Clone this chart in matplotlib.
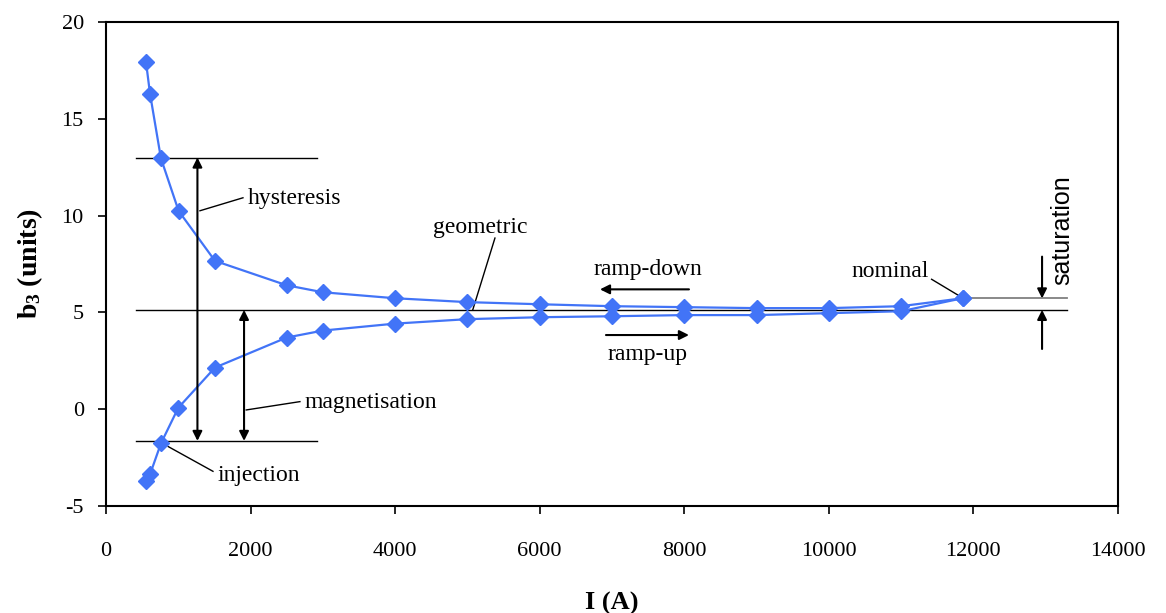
import numpy as np
from matplotlib import pyplot as plt

I_down = [553, 609, 760, 1005, 1508, 2500, 3000, 4000, 5000, 6000, 7000, 8000, 9000, 10000, 11000, 11850]
b3_down = [17.95, 16.3, 12.96, 10.24, 7.66, 6.4, 6.04, 5.73, 5.53, 5.42, 5.32, 5.27, 5.22, 5.22, 5.32, 5.73]
I_up = [553, 609, 760, 1000, 1508, 2500, 3000, 4000, 5000, 6000, 7000, 8000, 9000, 10000, 11000, 11850]
b3_up = [-3.72, -3.37, -1.77, 0.07, 2.15, 3.70, 4.06, 4.42, 4.65, 4.75, 4.80, 4.86, 4.86, 4.96, 5.06, 5.73]

geometric = 5.13
injection = -1.64
upper_ref = 13.0
nominal = 5.72

plt.rcParams['font.family'] = ['Liberation Serif', 'DejaVu Serif']
plt.rcParams['mathtext.fontset'] = 'custom'
plt.rcParams['mathtext.rm'] = 'Liberation Serif'
plt.rcParams['mathtext.bf'] = 'Liberation Serif:bold'
plt.rcParams['axes.unicode_minus'] = False

fig = plt.figure(figsize=(11.66, 6.13), dpi=100)
ax = fig.add_axes([0.0909, 0.1746, 0.8679, 0.7895])

blue = '#4274f7'
ax.plot(I_down, b3_down, color=blue, lw=1.6, marker='D', ms=8.5, zorder=3)
ax.plot(I_up, b3_up, color=blue, lw=1.6, marker='D', ms=8.5, zorder=3)

# reference lines
ax.plot([415, 2914], [upper_ref, upper_ref], color='black', lw=1)
ax.plot([415, 2914], [injection, injection], color='black', lw=1)
ax.plot([415, 13300], [geometric, geometric], color='black', lw=1)
ax.plot([11850, 13300], [nominal, nominal], color='grey', lw=1.3)

arr = dict(arrowstyle='<|-|>', color='black', lw=1.5, mutation_scale=14, shrinkA=0, shrinkB=0)
ax.annotate('', xy=(1265, upper_ref), xytext=(1265, injection), arrowprops=arr)
ax.annotate('', xy=(1910, geometric), xytext=(1910, injection), arrowprops=arr)

one = dict(arrowstyle='-|>', color='black', lw=1.5, mutation_scale=14, shrinkA=0, shrinkB=0)
ax.annotate('', xy=(6834, 6.19), xytext=(8065, 6.19), arrowprops=one)
ax.annotate('', xy=(8065, 3.83), xytext=(6917, 3.83), arrowprops=one)
ax.annotate('', xy=(12950, nominal), xytext=(12950, 7.88), arrowprops=one)
ax.annotate('', xy=(12950, geometric), xytext=(12950, 3.11), arrowprops=one)

# labels with leader lines
fs = 17
ax.plot([1300, 1895], [10.25, 10.92], color='black', lw=1)
ax.text(1964, 10.86, 'hysteresis', fontsize=fs, va='center', ha='left')
ax.plot([1940, 2683], [-0.04, 0.39], color='black', lw=1)
ax.text(2753, 0.37, 'magnetisation', fontsize=fs, va='center', ha='left')
ax.plot([860, 1480], [-1.93, -3.21], color='black', lw=1)
ax.text(1549, -3.45, 'injection', fontsize=fs, va='center', ha='left')
ax.plot([5381, 5073], [8.84, 5.12], color='black', lw=1)
ax.text(5174, 9.36, 'geometric', fontsize=fs, va='center', ha='center')
ax.text(7497, 7.19, 'ramp-down', fontsize=fs, va='center', ha='center')
ax.text(7497, 2.8, 'ramp-up', fontsize=fs, va='center', ha='center')
ax.plot([11422, 11837], [6.71, 5.78], color='black', lw=1)
ax.text(10845, 7.1, 'nominal', fontsize=fs, va='center', ha='center')
ax.text(13224, 9.26, 'saturation', fontsize=18, va='center', ha='center',
        rotation=90, family=['Liberation Sans', 'DejaVu Sans'])

ax.set_xlim(0, 14000)
ax.set_ylim(-5, 20)
ax.set_xticks(np.arange(0, 14001, 2000))
ax.set_yticks(np.arange(-5, 21, 5))
ax.tick_params(direction='out', length=6, width=1.2, labelsize=16)
ax.tick_params(axis='x', pad=20)
ax.tick_params(axis='y', pad=10)
for s in ax.spines.values():
    s.set_linewidth(1.5)

ax.set_xlabel('I (A)', fontsize=19, fontweight='bold', labelpad=22)
ax.set_ylabel(r'$\mathbf{b_3}$ (units)', fontsize=20, fontweight='bold', labelpad=12)

fig.savefig('out.png', dpi=100)
